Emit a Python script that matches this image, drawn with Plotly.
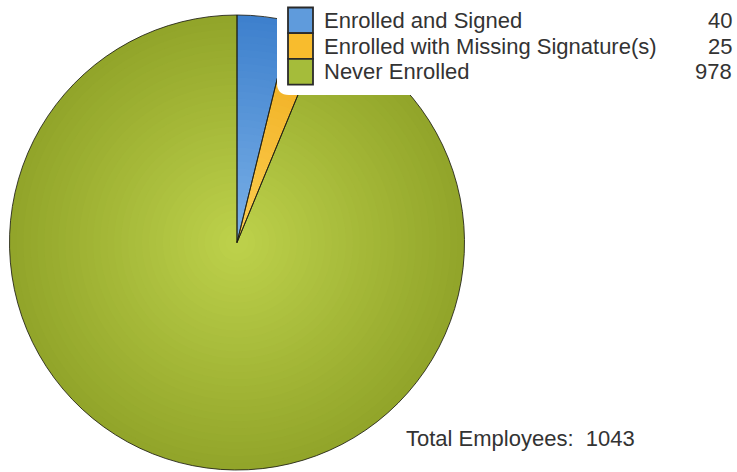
import plotly.graph_objects as go

# ---- data ----
categories = ["Enrolled and Signed", "Enrolled with Missing Signature(s)", "Never Enrolled"]
values = [40, 25, 978]
total_label = "Total Employees:"
total_value = 1043

# ---- style ----
W, H = 737, 472
outer_cols = [(62, 128, 205), (238, 170, 25), (146, 165, 42)]
inner_cols = [(120, 175, 230), (252, 205, 80), (188, 208, 74)]
swatch_cols = ["rgb(95,155,220)", "rgb(248,188,45)", "rgb(165,188,58)"]
FONT = "Liberation Sans, Arial, sans-serif"
TXT = "#333333"
FS = 22

def px(x):
    return x / W

def py(y):
    return 1 - y / H

# pie geometry (pixels)
cx, cy, r = 237, 242.5, 227.5

fig = go.Figure()

n_layers = 32
for i in range(n_layers):
    t = i / (n_layers - 1)
    rr = r * (1 - 0.95 * t)
    cols = []
    for o, c in zip(outer_cols, inner_cols):
        cols.append("rgb(%d,%d,%d)" % tuple(round(o[k] + (c[k] - o[k]) * t) for k in range(3)))
    fig.add_trace(go.Pie(
        labels=categories, values=values, sort=False, direction="clockwise", rotation=0,
        marker=dict(colors=cols, line=dict(width=0)),
        textinfo="none", hoverinfo="skip", showlegend=False,
        domain=dict(x=[px(cx - rr), px(cx + rr)], y=[py(cy + rr), py(cy - rr)]),
    ))

# borders on top
fig.add_trace(go.Pie(
    labels=categories, values=values, sort=False, direction="clockwise", rotation=0,
    marker=dict(colors=["rgba(0,0,0,0)"] * 3, line=dict(color="rgba(30,30,20,0.85)", width=1)),
    textinfo="none", hoverinfo="label+value", showlegend=False,
    domain=dict(x=[px(cx - r), px(cx + r)], y=[py(cy + r), py(cy - r)]),
))

shapes = []
annotations = []

# legend background (rounded white box)
x0, x1, y0, y1, rc = 277, 760, -10, 95, 12
path = ("M %f %f L %f %f L %f %f Q %f %f %f %f L %f %f Q %f %f %f %f Z" % (
    px(x1), py(y0), px(x1), py(y1),
    px(x0 + rc), py(y1), px(x0), py(y1), px(x0), py(y1 - rc),
    px(x0), py(y0 + rc), px(x0), py(y0), px(x0 + rc), py(y0)))
shapes.append(dict(type="path", xref="paper", yref="paper", path=path,
                   fillcolor="white", line=dict(width=0), layer="above"))

row_h = 25.7
top = 7.5
for i, (cat, val) in enumerate(zip(categories, values)):
    ya = top + i * row_h
    yb = ya + row_h
    shapes.append(dict(type="rect", xref="paper", yref="paper",
                       x0=px(288), x1=px(313), y0=py(yb), y1=py(ya),
                       fillcolor=swatch_cols[i], line=dict(color="#2a2a2a", width=1.8),
                       layer="above"))
    ym = (ya + yb) / 2
    annotations.append(dict(x=px(322), y=py(ym), xref="paper", yref="paper",
                            text=cat, showarrow=False, xanchor="left", yanchor="middle",
                            font=dict(family=FONT, size=FS, color=TXT)))
    annotations.append(dict(x=px(734), y=py(ym), xref="paper", yref="paper",
                            text=str(val), showarrow=False, xanchor="right", yanchor="middle",
                            font=dict(family=FONT, size=FS, color=TXT)))

annotations.append(dict(x=px(404), y=py(438), xref="paper", yref="paper",
                        text="%s&nbsp;&nbsp;%d" % (total_label, total_value), showarrow=False,
                        xanchor="left", yanchor="middle",
                        font=dict(family=FONT, size=FS, color=TXT)))

fig.update_layout(
    width=W, height=H, margin=dict(l=0, r=0, t=0, b=0),
    paper_bgcolor="white", plot_bgcolor="white",
    shapes=shapes, annotations=annotations, showlegend=False,
)

fig.write_html("out.html", config={"displayModeBar": False},
               post_script="document.body.style.margin='0';")
